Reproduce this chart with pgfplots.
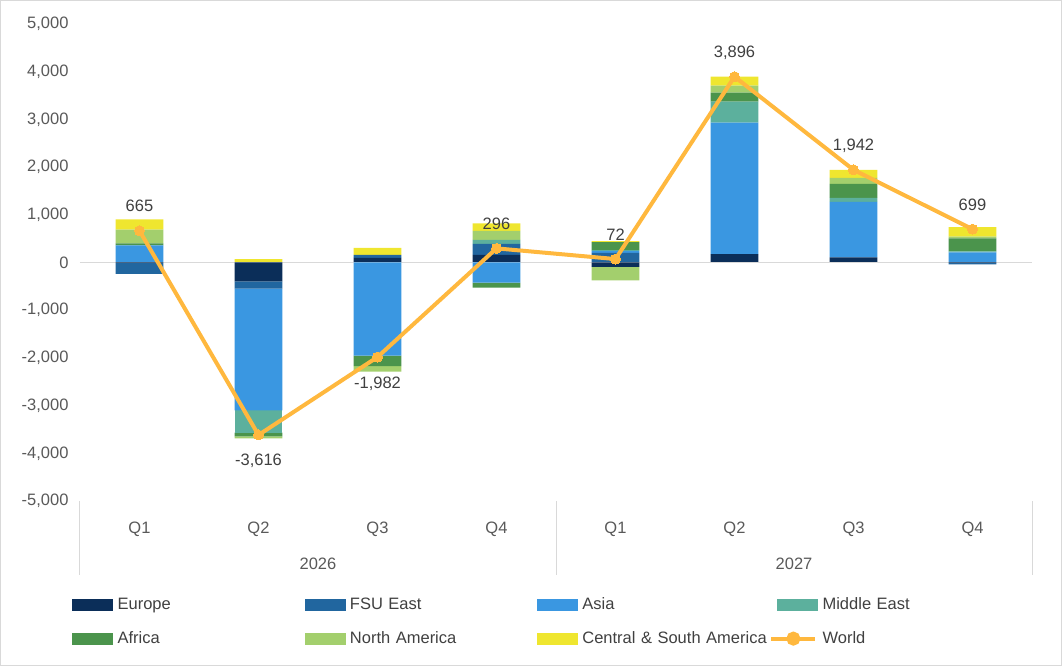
\documentclass[border=0pt]{standalone}
\usepackage{pgfplots}
\pgfplotsset{compat=1.18}
\usepackage{pgfplotstable}
\usepackage{fontspec}
\setmainfont{Liberation Sans}

\definecolor{cEu}{HTML}{0B2E59}
\definecolor{cFSU}{HTML}{21669F}
\definecolor{cAsia}{HTML}{3A97E1}
\definecolor{cME}{HTML}{5CB09D}
\definecolor{cAf}{HTML}{4B944C}
\definecolor{cNA}{HTML}{A3CF6D}
\definecolor{cCSA}{HTML}{EFE62F}
\definecolor{cWorld}{HTML}{FFB83E}
\definecolor{cText}{HTML}{404040}
\definecolor{cTick}{HTML}{595959}
\definecolor{cGrid}{HTML}{D9D9D9}

% positive parts of each region, stacked upward
\pgfplotstableread{
x Eu FSU Asia ME Af NA CSA
0 0 0 360 0 40 290 215
1 0 0 0 0 0 0 70
2 98 63 0 0 0 0 147
3 160 230 0 84 0 189 158
4 0 203 42 15 168 0 21
5 175 0 2756 440 189 147 189
6 105 0 1165 84 294 126 168
7 0 0 210 21 277 35 196
}\tblpos
% negative parts of each region, stacked downward
\pgfplotstableread{
x Eu FSU Asia ME Af NA CSA
0 -10 -230 0 0 0 0 0
1 -394 -155 -2550 -468 -77 -42 0
2 0 0 -1954 0 -217 -119 0
3 0 0 -420 0 -105 0 0
4 -90 0 0 0 0 -287 0
5 0 0 0 0 0 0 0
6 0 0 0 0 0 0 0
7 -10 -30 0 0 0 0 0
}\tblneg
\pgfplotstableread{
x W
0 665
1 -3616
2 -1982
3 296
4 72
5 3896
6 1942
7 699
}\tblworld

\pgfplotsset{
  base/.style={scale only axis, width=952bp, height=477bp,
    xmin=-0.5, xmax=7.5, ymin=-5000, ymax=5000, enlargelimits=false,
    clip=false, font=\fontsize{16.5bp}{20bp}\selectfont},
  bars/.style={ybar stacked, bar width=0.4},
}

\begin{document}
\begin{tikzpicture}
\draw[cGrid, line width=1bp] (-79.5bp,-164.5bp) rectangle (981.5bp,500.5bp);

\begin{axis}[base, bars,
  axis line style={draw=none}, tick style={draw=none},
  xtick={0,...,7}, xticklabels={Q1,Q2,Q3,Q4,Q1,Q2,Q3,Q4},
  xticklabel style={text=cTick, yshift=-17bp},
  ytick={-5000,-4000,...,5000},
  yticklabel style={text=cTick, xshift=-8bp, /pgf/number format/assume math mode=true, /pgf/number format/1000 sep={,}},
]
  \draw[cGrid, line width=1.3bp] (axis cs:-0.5,0) -- (axis cs:7.5,0);
  \draw[cGrid, line width=1bp] (axis cs:-0.5,-5000) -- ([yshift=-74bp]axis cs:-0.5,-5000);
  \draw[cGrid, line width=1bp] (axis cs:3.5,-5000) -- ([yshift=-74bp]axis cs:3.5,-5000);
  \draw[cGrid, line width=1bp] (axis cs:7.5,-5000) -- ([yshift=-74bp]axis cs:7.5,-5000);
  \node[text=cTick] at ([yshift=-63bp]axis cs:1.5,-5000) {2026};
  \node[text=cTick] at ([yshift=-63bp]axis cs:5.5,-5000) {2027};
  \addplot[fill=cEu, draw=none] table[x=x,y=Eu]{\tblpos};
  \addplot[fill=cFSU, draw=none] table[x=x,y=FSU]{\tblpos};
  \addplot[fill=cAsia, draw=none] table[x=x,y=Asia]{\tblpos};
  \addplot[fill=cME, draw=none] table[x=x,y=ME]{\tblpos};
  \addplot[fill=cAf, draw=none] table[x=x,y=Af]{\tblpos};
  \addplot[fill=cNA, draw=none] table[x=x,y=NA]{\tblpos};
  \addplot[fill=cCSA, draw=none] table[x=x,y=CSA]{\tblpos};
\end{axis}

\begin{axis}[base, bars, hide axis]
  \addplot[fill=cEu, draw=none] table[x=x,y=Eu]{\tblneg};
  \addplot[fill=cFSU, draw=none] table[x=x,y=FSU]{\tblneg};
  \addplot[fill=cAsia, draw=none] table[x=x,y=Asia]{\tblneg};
  \addplot[fill=cME, draw=none] table[x=x,y=ME]{\tblneg};
  \addplot[fill=cAf, draw=none] table[x=x,y=Af]{\tblneg};
  \addplot[fill=cNA, draw=none] table[x=x,y=NA]{\tblneg};
  \addplot[fill=cCSA, draw=none] table[x=x,y=CSA]{\tblneg};
\end{axis}

\begin{axis}[base, hide axis,
  legend columns=4, legend cell align=left,
  legend style={at={(-0.0084,-0.199)}, anchor=north west, draw=none, fill=none,
    inner sep=0pt, row sep=17bp,
    /tikz/every odd column/.style={column sep=3bp},
    nodes={text width=185bp, inner xsep=2bp, inner ysep=1bp, text height=12bp, text depth=3bp, text=cText, align=left}},
]
  \addlegendimage{legend image code/.code={\fill[cEu] (0bp,-5.5bp) rectangle (40bp,5.5bp);}}
  \addlegendentry{Europe}
  \addlegendimage{legend image code/.code={\fill[cFSU] (0bp,-5.5bp) rectangle (40bp,5.5bp);}}
  \addlegendentry{FSU East}
  \addlegendimage{legend image code/.code={\fill[cAsia] (0bp,-5.5bp) rectangle (40bp,5.5bp);}}
  \addlegendentry{Asia}
  \addlegendimage{legend image code/.code={\fill[cME] (0bp,-5.5bp) rectangle (40bp,5.5bp);}}
  \addlegendentry{Middle East}
  \addlegendimage{legend image code/.code={\fill[cAf] (0bp,-5.5bp) rectangle (40bp,5.5bp);}}
  \addlegendentry{Africa}
  \addlegendimage{legend image code/.code={\fill[cNA] (0bp,-5.5bp) rectangle (40bp,5.5bp);}}
  \addlegendentry{North America}
  \addlegendimage{legend image code/.code={\fill[cCSA] (0bp,-5.5bp) rectangle (40bp,5.5bp);}}
  \addlegendentry{Central \& South America}
  \addplot[cWorld, line width=4bp, mark=*, mark size=5bp,
    mark options={fill=cWorld, draw=cWorld, line width=0pt},
    point meta=y,
    nodes near coords={\pgfmathprintnumber[assume math mode=true,1000 sep={,}]{\pgfplotspointmeta}},
    nodes near coords align={vertical},
    every node near coord/.append style={text=cText, inner sep=0pt, outer sep=19bp, text height=12bp, text depth=0pt},
    legend image code/.code={\draw[cWorld, line width=4bp] (-6bp,0) -- (38bp,0); \fill[cWorld] (16bp,0) circle (5bp);}
  ] table[x=x,y=W]{\tblworld};
  \addlegendentry{World}
\end{axis}
\end{tikzpicture}
\end{document}
